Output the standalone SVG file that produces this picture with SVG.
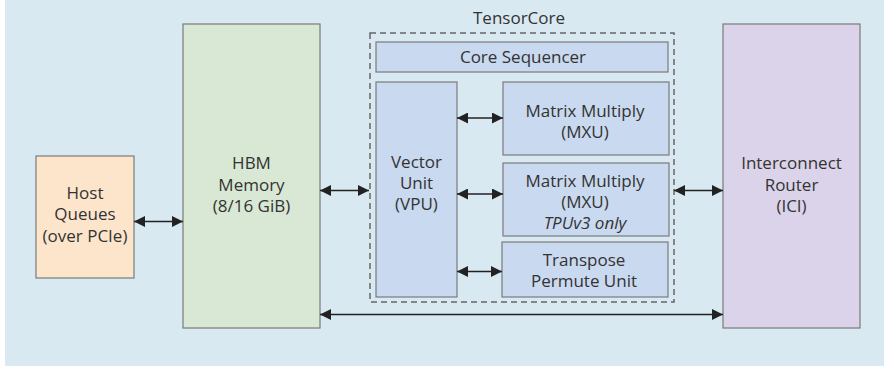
<svg xmlns="http://www.w3.org/2000/svg" width="884" height="366" viewBox="0 0 884 366">
<defs>
<marker id="ah" viewBox="0 0 11 11" markerWidth="11" markerHeight="11" refX="11" refY="5.5" orient="auto-start-reverse" markerUnits="userSpaceOnUse">
<path d="M0,0 L11,5.5 L0,11 z" fill="#222"/>
</marker>
<style>
.box{stroke:#7a7a7a;stroke-width:1.2}
.t{font-family:"Open Sans","Liberation Sans",sans-serif;font-size:17px;fill:#333;text-anchor:middle}
.i{font-style:italic}
.c{stroke:#222;stroke-width:1.5;fill:none;marker-start:url(#ah);marker-end:url(#ah)}
</style>
</defs>
<rect x="0" y="0" width="884" height="366" fill="#ffffff"/>
<rect x="5" y="0" width="879" height="366" fill="#d9e9f2"/>

<g id="host">
<rect class="box" x="36" y="156" width="98" height="122" fill="#fde5cc"/>
<text class="t" x="85" y="199">Host</text>
<text class="t" x="85" y="220">Queues</text>
<text class="t" x="85" y="241.5">(over PCIe)</text>
</g>

<g id="hbm">
<rect class="box" x="183" y="24" width="137" height="304" fill="#d8e8d4"/>
<text class="t" x="251.5" y="169">HBM</text>
<text class="t" x="251.5" y="190.5">Memory</text>
<text class="t" x="251.5" y="212">(8/16 GiB)</text>
</g>

<g id="tensorcore">
<rect x="370" y="33" width="304" height="269" fill="none" stroke="#666" stroke-width="1.5" stroke-dasharray="6,4"/>
<text class="t" x="519" y="24">TensorCore</text>
</g>

<g id="seq">
<rect class="box" x="376" y="42" width="292" height="30" fill="#c9d9ef"/>
<text class="t" x="523" y="63">Core Sequencer</text>
</g>

<g id="vpu">
<rect class="box" x="376" y="82" width="81" height="215" fill="#c9d9ef"/>
<text class="t" x="416.5" y="168">Vector</text>
<text class="t" x="416.5" y="189">Unit</text>
<text class="t" x="416.5" y="210">(VPU)</text>
</g>

<g id="mxu1">
<rect class="box" x="503" y="82" width="166" height="73" fill="#c9d9ef"/>
<text class="t" x="585" y="116.5">Matrix Multiply</text>
<text class="t" x="585" y="137.5">(MXU)</text>
</g>

<g id="mxu2">
<rect class="box" x="503" y="163" width="166" height="73" fill="#c9d9ef"/>
<text class="t" x="585" y="186.5">Matrix Multiply</text>
<text class="t" x="585" y="207.5">(MXU)</text>
<text class="t i" x="585" y="229">TPUv3 only</text>
</g>

<g id="transpose">
<rect class="box" x="502" y="242" width="166" height="55" fill="#c9d9ef"/>
<text class="t" x="584" y="266">Transpose</text>
<text class="t" x="584" y="287">Permute Unit</text>
</g>

<g id="ici">
<rect class="box" x="723" y="24" width="137" height="304" fill="#dbd3e9"/>
<text class="t" x="791.5" y="169">Interconnect</text>
<text class="t" x="791.5" y="190.5">Router</text>
<text class="t" x="791.5" y="212">(ICI)</text>
</g>

<g id="connectors">
<line class="c" x1="134" y1="221.5" x2="183" y2="221.5"/>
<line class="c" x1="320" y1="190.5" x2="369" y2="190.5"/>
<line class="c" x1="457" y1="118" x2="503" y2="118"/>
<line class="c" x1="457" y1="194" x2="503" y2="194"/>
<line class="c" x1="457" y1="271.5" x2="502" y2="271.5"/>
<line class="c" x1="674" y1="190.5" x2="723" y2="190.5"/>
<line class="c" x1="320" y1="314.5" x2="723" y2="314.5"/>
</g>
</svg>
